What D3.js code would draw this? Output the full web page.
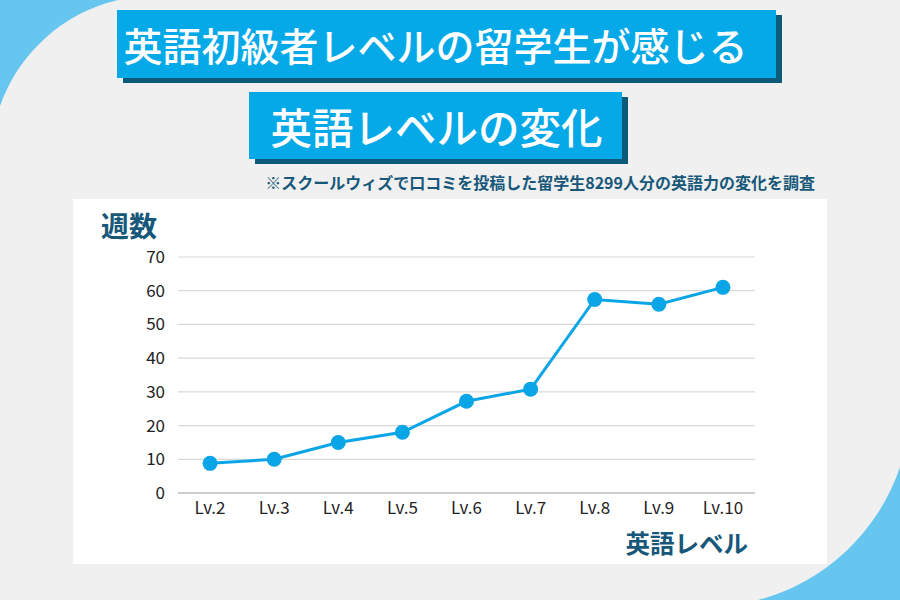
<!DOCTYPE html>
<html><head><meta charset="utf-8">
<script src="https://cdn.jsdelivr.net/npm/d3@7"></script>
<style>
html,body{margin:0;padding:0;background:#f0f0f0;}
svg{display:block;}
text{font-family:"Noto Sans CJK JP","Noto Sans",sans-serif;}
</style></head>
<body>
<svg id="chart" width="900" height="600"></svg>
<script>
const categories = ["Lv.2","Lv.3","Lv.4","Lv.5","Lv.6","Lv.7","Lv.8","Lv.9","Lv.10"];
const weeks = [8.8, 10, 15, 18, 27.2, 30.8, 57.4, 56, 61];
const yTicks = [0,10,20,30,40,50,60,70];
const titleLine1 = "英語初級者レベルの留学生が感じる";
const titleLine2 = "英語レベルの変化";
const note = "※スクールウィズで口コミを投稿した留学生8299人分の英語力の変化を調査";
const yTitle = "週数";
const xTitle = "英語レベル";

const svg = d3.select("#chart");
const W = 900, H = 600;
svg.append("rect").attr("width",W).attr("height",H).attr("fill","#f0f0f0");

// decorative corner arcs
svg.append("path").attr("d","M0,0 L118,0 A165,165 0 0 0 0,106 Z").attr("fill","#66c6f0");
svg.append("path").attr("d","M900,467 A205,205 0 0 1 758,600 L900,600 Z").attr("fill","#66c6f0");

// title boxes
function titleBox(x,y,w,h,txt,fs,dx){
  svg.append("rect").attr("x",x+6).attr("y",y+5).attr("width",w).attr("height",h).attr("fill","#0c5a7a");
  svg.append("rect").attr("x",x).attr("y",y).attr("width",w).attr("height",h).attr("fill","#06a9e8");
  svg.append("text").attr("x",x+w/2+dx).attr("y",y+h/2).attr("text-anchor","middle")
    .attr("dominant-baseline","central").attr("fill","#fff").attr("font-weight",500)
    .attr("font-size",fs).text(txt);
}
titleBox(117,10,659,68,titleLine1,39,-11);
titleBox(249,92,373,67,titleLine2,41.5,1);

svg.append("text").attr("x",815).attr("y",189).attr("text-anchor","end")
  .attr("fill","#17587a").attr("font-weight","bold").attr("font-size",16).text(note);

// white panel
svg.append("rect").attr("x",73).attr("y",199).attr("width",754).attr("height",365).attr("fill","#ffffff");

const x = d3.scaleBand().domain(categories).range([178,755]);
const y = d3.scaleLinear().domain([0,70]).range([493,257]);

// grid
const grid = svg.append("g");
grid.selectAll("line").data(yTicks).join("line")
  .attr("x1",178).attr("x2",755).attr("y1",d=>y(d)).attr("y2",d=>y(d))
  .attr("stroke",d=>d===0?"#bdbdbd":"#d9d9d9").attr("stroke-width",d=>d===0?1.5:1.2);

// y axis labels
const yAxis = svg.append("g").attr("transform","translate(178,0)")
  .call(d3.axisLeft(y).tickValues(yTicks).tickSize(0).tickPadding(13));
yAxis.select(".domain").remove();
yAxis.selectAll("text").attr("font-size",17).attr("fill","#222").style("font-family","'Noto Sans CJK JP','Noto Sans',sans-serif");

// x axis labels
const xAxis = svg.append("g").attr("transform","translate(0,493)")
  .call(d3.axisBottom(x).tickSize(0).tickPadding(9));
xAxis.select(".domain").remove();
xAxis.selectAll("text").attr("font-size",17).attr("fill","#222").style("font-family","'Noto Sans CJK JP','Noto Sans',sans-serif");

// line
const line = d3.line().x((d,i)=>x(categories[i])+x.bandwidth()/2).y(d=>y(d));
svg.append("path").datum(weeks).attr("d",line).attr("fill","none")
  .attr("stroke","#0aa5e6").attr("stroke-width",3);
svg.selectAll("circle.pt").data(weeks).join("circle").attr("class","pt")
  .attr("cx",(d,i)=>x(categories[i])+x.bandwidth()/2).attr("cy",d=>y(d)).attr("r",7.5)
  .attr("fill","#0aa5e6");

// axis titles
svg.append("text").attr("x",101).attr("y",237).attr("fill","#17587a").attr("font-weight","bold")
  .attr("font-size",28).text(yTitle);
svg.append("text").attr("x",748).attr("y",553).attr("text-anchor","end").attr("fill","#17587a")
  .attr("font-weight","bold").attr("font-size",24.5).text(xTitle);
</script>
</body></html>
